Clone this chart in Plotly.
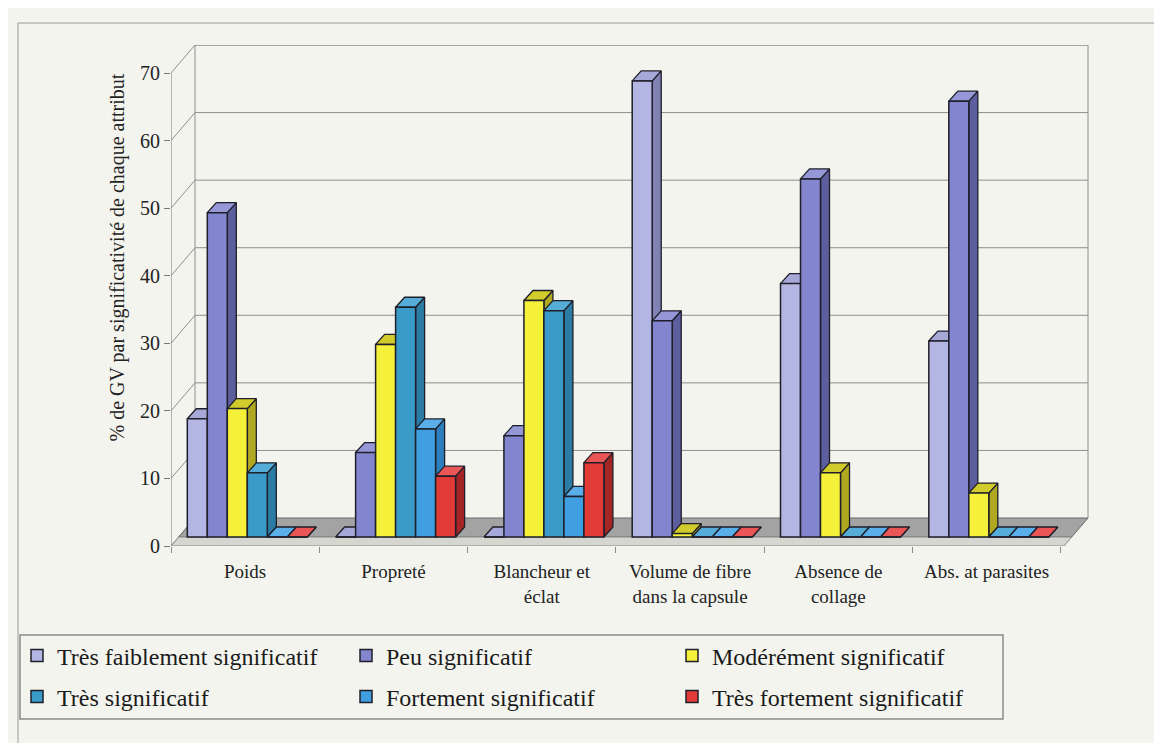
import plotly.graph_objects as go

# ---------------- data ----------------
categories = ["Poids", "Propreté", "Blancheur et<br>éclat",
              "Volume de fibre<br>dans la capsule", "Absence de<br>collage",
              "Abs. at parasites"]
series_names = ["Très faiblement significatif", "Peu significatif",
                "Modérément significatif", "Très significatif",
                "Fortement significatif", "Très fortement significatif"]
tres_faiblement = [17.5, 0, 0, 67.5, 37.5, 29]
peu = [48, 12.5, 15, 32, 53, 64.5]
moderement = [19, 28.5, 35, 0.5, 9.5, 6.5]
tres = [9.5, 34, 33.5, 0, 0, 0]
fortement = [0, 16, 6, 0, 0, 0]
tres_fortement = [0, 9, 11, 0, 0, 0]
y_ticks = [0, 10, 20, 30, 40, 50, 60, 70]
y_title = "% de GV par significativité de chaque attribut"

series_values = [tres_faiblement, peu, moderement, tres, fortement, tres_fortement]

# ---------------- styles ----------------
front_cols = ["#b3b5e3", "#8385cf", "#f5f03a", "#3a9bc8", "#3f9fe0", "#e23a36"]
top_cols = ["#a6a8d8", "#9597d6", "#d2cb2c", "#55acd6", "#5aaeea", "#ea5555"]
side_cols = ["#8082b4", "#5c5e9e", "#b0a820", "#2b7ca5", "#2c7fbd", "#a52424"]
OUT = "#1f1f2a"
BG = "#f3f4ee"
GRID = "#8e8e8e"
FONT = "Liberation Serif"

# pixel geometry of the plot area
W_FIG, H_FIG = 1162, 743
L, R, T, B = 163, 1085, 37, 538
PX_PER_CAT = 148.3
PX_PER_UNIT = 6.757
X0 = -0.5
X1 = X0 + (R - L) / PX_PER_CAT
Y1 = (B - T) / PX_PER_UNIT

# 3-D depth of walls / floor
DXW = 24 / PX_PER_CAT
DYW = 28 / PX_PER_UNIT
X_BACK_R = (1080 - L) / PX_PER_CAT + X0
X_FRONT_R = X_BACK_R - DXW
LIFT = 9 / PX_PER_UNIT        # bars stand slightly back on the floor
# bar geometry
STEP = 20 / PX_PER_CAT
BW = STEP
OFF0 = -0.39
DX = 9 / PX_PER_CAT
DY = 10 / PX_PER_UNIT

# legend placement (pixels): legend x per column, row centre y
LEG_COL_X = [9, 338, 664]
LEG_ROW_Y = [648, 689]
LEG_BOX = (12, 995, 627, 711)


def px_x(p):
    return (p - L) / (R - L)


def px_y(p):
    return (B - p) / (B - T)


fig = go.Figure()

# back wall gridlines + edges
gx, gy = [], []
for v in y_ticks[1:]:
    gx += [X0 + DXW, X_BACK_R, None]
    gy += [v + DYW, v + DYW, None]
gx += [X0 + DXW, X0 + DXW, None, X_BACK_R, X_BACK_R, None, X0 + DXW, X_BACK_R]
gy += [DYW, Y1, None, DYW, Y1, None, Y1, Y1]
fig.add_trace(go.Scatter(x=gx, y=gy, mode="lines", line=dict(color=GRID, width=1),
                         hoverinfo="skip", showlegend=False, zorder=0))
# perspective lines from the front axis to the back wall
px_, py_ = [], []
for v in y_ticks:
    px_ += [X0, X0 + DXW, None]
    py_ += [v, v + DYW, None]
fig.add_trace(go.Scatter(x=px_, y=py_, mode="lines", line=dict(color=GRID, width=1),
                         hoverinfo="skip", showlegend=False, zorder=0))
# floor
a = DXW * LIFT / DYW
fig.add_trace(go.Scatter(
    x=[X0 + a, X_FRONT_R + a, X_BACK_R, X0 + DXW, X0 + a],
    y=[LIFT, LIFT, DYW, DYW, LIFT], mode="lines", fill="toself",
    fillcolor="#a3a3a3", line=dict(color="#6a6a6a", width=1),
    hoverinfo="skip", showlegend=False, zorder=0))
fig.add_trace(go.Scatter(
    x=[X0, X_FRONT_R, X_FRONT_R + a, X0 + a, X0],
    y=[0, 0, LIFT, LIFT, 0], mode="lines", fill="toself",
    fillcolor="#d6d6d0", line=dict(color="#8a8a8a", width=1),
    hoverinfo="skip", showlegend=False, zorder=0))

# bars: side + top faces (scatter polygons) and front faces (bars)
for i, (name, vals) in enumerate(zip(series_names, series_values)):
    xs_s, ys_s, xs_t, ys_t = [], [], [], []
    for c, v in enumerate(vals):
        xl = c + OFF0 + i * STEP
        xr = xl + BW
        b = LIFT
        t = LIFT + v
        xs_s += [xr, xr + DX, xr + DX, xr, xr, None]
        ys_s += [b, b + DY, t + DY, t, b, None]
        xs_t += [xl, xl + DX, xr + DX, xr, xl, None]
        ys_t += [t, t + DY, t + DY, t, t, None]
    fig.add_trace(go.Scatter(x=xs_s, y=ys_s, mode="lines", fill="toself",
                             fillcolor=side_cols[i], line=dict(color=OUT, width=1.3),
                             hoverinfo="skip", showlegend=False, zorder=2 * i + 1))
    fig.add_trace(go.Scatter(x=xs_t, y=ys_t, mode="lines", fill="toself",
                             fillcolor=top_cols[i], line=dict(color=OUT, width=1.3),
                             hoverinfo="skip", showlegend=False, zorder=2 * i + 1))
    fig.add_trace(go.Bar(
        x=list(range(len(categories))), y=vals, base=LIFT, width=BW,
        offset=OFF0 + i * STEP, name=name,
        marker=dict(color=front_cols[i], line=dict(color=OUT, width=1.5)),
        legend="legend" if i == 0 else f"legend{i + 1}", zorder=2 * i + 2))

# front vertical axis line
fig.add_trace(go.Scatter(x=[X0, X0], y=[0, y_ticks[-1]], mode="lines",
                         line=dict(color="#777777", width=1),
                         hoverinfo="skip", showlegend=False, zorder=20))

legends = {}
for i in range(len(series_names)):
    key = "legend" if i == 0 else f"legend{i + 1}"
    col, row = i % 3, i // 3
    legends[key] = dict(
        orientation="h", xref="container", yref="container",
        x=LEG_COL_X[col] / W_FIG, y=1 - LEG_ROW_Y[row] / H_FIG,
        xanchor="left", yanchor="middle", itemwidth=30,
        bgcolor="rgba(0,0,0,0)", borderwidth=0,
        font=dict(family=FONT, size=24, color="#1a1a1a"))

bx0, bx1, by0, by1 = LEG_BOX
fig.update_layout(
    width=W_FIG, height=H_FIG, autosize=False,
    margin=dict(l=L, r=W_FIG - R, t=T, b=H_FIG - B),
    paper_bgcolor=BG, plot_bgcolor=BG,
    barmode="overlay",
    showlegend=True,
    xaxis=dict(range=[X0, X1], tickmode="array", tickvals=list(range(len(categories))),
               ticktext=categories, ticks="", showgrid=False, zeroline=False,
               showline=False, ticklabelstandoff=12,
               tickfont=dict(family=FONT, size=19, color="#222222"),
               minor=dict(tickmode="linear", tick0=-0.5, dtick=1, ticks="outside",
                          ticklen=6, tickcolor="#8a8a8a", showgrid=False)),
    yaxis=dict(range=[0, Y1], tickmode="array", tickvals=y_ticks, ticks="outside",
               ticklen=6, tickcolor="#777777", showgrid=False, zeroline=False,
               showline=False, tickfont=dict(family=FONT, size=20, color="#222222")),
    annotations=[dict(text=y_title, textangle=-90, xref="paper", yref="paper",
                      x=px_x(95), y=px_y(250), showarrow=False,
                      font=dict(family=FONT, size=20, color="#222222"))],
    shapes=[
        dict(type="line", xref="paper", yref="paper", x0=px_x(10), x1=px_x(1162),
             y0=px_y(15), y1=px_y(15), line=dict(color="#9a9a9a", width=1)),
        dict(type="line", xref="paper", yref="paper", x0=px_x(10), x1=px_x(10),
             y0=px_y(15), y1=px_y(743), line=dict(color="#9a9a9a", width=1)),
        dict(type="rect", xref="paper", yref="paper", x0=px_x(bx0), x1=px_x(bx1),
             y0=px_y(by1), y1=px_y(by0), line=dict(color="#8a8a8a", width=1.5)),
    ],
    **legends,
)

fig.write_html("out.html")
